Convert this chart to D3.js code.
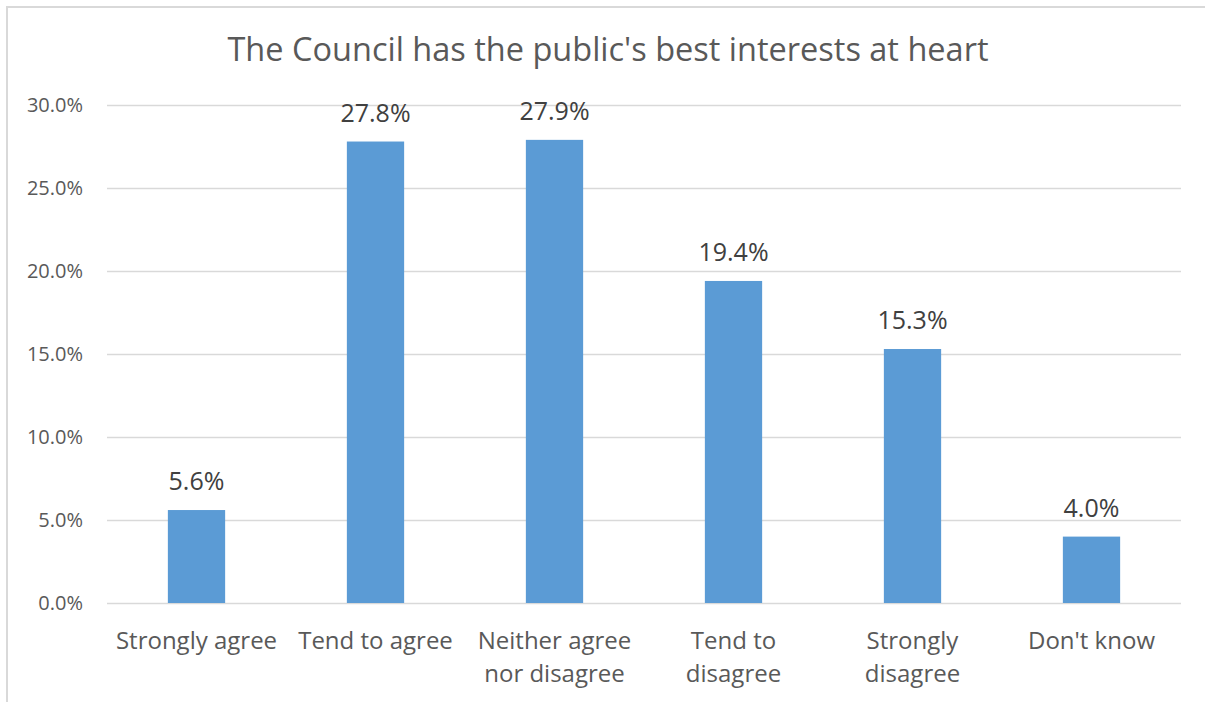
<!DOCTYPE html>
<html>
<head>
<meta charset="utf-8">
<script src="https://cdn.jsdelivr.net/npm/d3@7"></script>
<style>
  body { margin: 0; background: #fff; }
  text { font-family: "Open Sans", sans-serif; }
</style>
</head>
<body>
<svg id="chart" width="1205" height="702"></svg>
<script>
var title = "The Council has the public's best interests at heart";
var categories = ["Strongly agree", "Tend to agree", "Neither agree nor disagree", "Tend to disagree", "Strongly disagree", "Don't know"];
var cat_lines = [["Strongly agree"], ["Tend to agree"], ["Neither agree", "nor disagree"], ["Tend to", "disagree"], ["Strongly", "disagree"], ["Don't know"]];
var values = [5.6, 27.8, 27.9, 19.4, 15.3, 4.0];
var y_ticks = [0, 5, 10, 15, 20, 25, 30];

var width = 1205, height = 702;
var plot_left = 107, plot_right = 1181, plot_top = 105, plot_bottom = 603;

var svg = d3.select("#chart");

// outer chart border (right and bottom edges fall outside the picture)
svg.append("rect")
    .attr("x", 7).attr("y", 7)
    .attr("width", width + 20).attr("height", height + 20)
    .attr("fill", "none")
    .attr("stroke", "#d9d9d9")
    .attr("stroke-width", 2);

var x = d3.scaleBand().domain(categories).range([plot_left, plot_right]).paddingInner(0.68).paddingOuter(0.34);
var y = d3.scaleLinear().domain([0, 30]).range([plot_bottom, plot_top]);

svg.append("text")
    .attr("x", 608).attr("y", 61)
    .attr("text-anchor", "middle")
    .attr("font-size", 32.5)
    .attr("fill", "#595959")
    .text(title);

// gridlines
svg.append("g").selectAll("line").data(y_ticks).enter().append("line")
    .attr("x1", plot_left).attr("x2", plot_right)
    .attr("y1", (d) => Math.round(y(d)) + 0.5)
    .attr("y2", (d) => Math.round(y(d)) + 0.5)
    .attr("stroke", "#d9d9d9")
    .attr("stroke-width", 1.5);

svg.append("g").selectAll("text").data(y_ticks).enter().append("text")
    .attr("x", 83)
    .attr("y", (d) => y(d) + 7)
    .attr("text-anchor", "end")
    .attr("font-size", 20)
    .attr("fill", "#595959")
    .text((d) => d.toFixed(1) + "%");

// bars
svg.append("g").selectAll("rect").data(values).enter().append("rect")
    .attr("x", (d, i) => x(categories[i]))
    .attr("y", (d) => y(d))
    .attr("width", x.bandwidth())
    .attr("height", (d) => y(0) - y(d))
    .attr("fill", "#5b9bd5");

// data labels
svg.append("g").selectAll("text").data(values).enter().append("text")
    .attr("x", (d, i) => x(categories[i]) + x.bandwidth() / 2)
    .attr("y", (d) => y(d) - 20)
    .attr("text-anchor", "middle")
    .attr("font-size", 25)
    .attr("fill", "#404040")
    .text((d) => d.toFixed(1) + "%");

// category labels
var cat = svg.append("g").selectAll("text").data(categories).enter().append("text")
    .attr("text-anchor", "middle")
    .attr("font-size", 24)
    .attr("fill", "#595959");
cat.each(function(d, i) {
    var t = d3.select(this);
    cat_lines[i].forEach(function(line, j) {
        t.append("tspan")
            .attr("x", x(d) + x.bandwidth() / 2)
            .attr("y", 649 + j * 33)
            .text(line);
    });
});
</script>
</body>
</html>
